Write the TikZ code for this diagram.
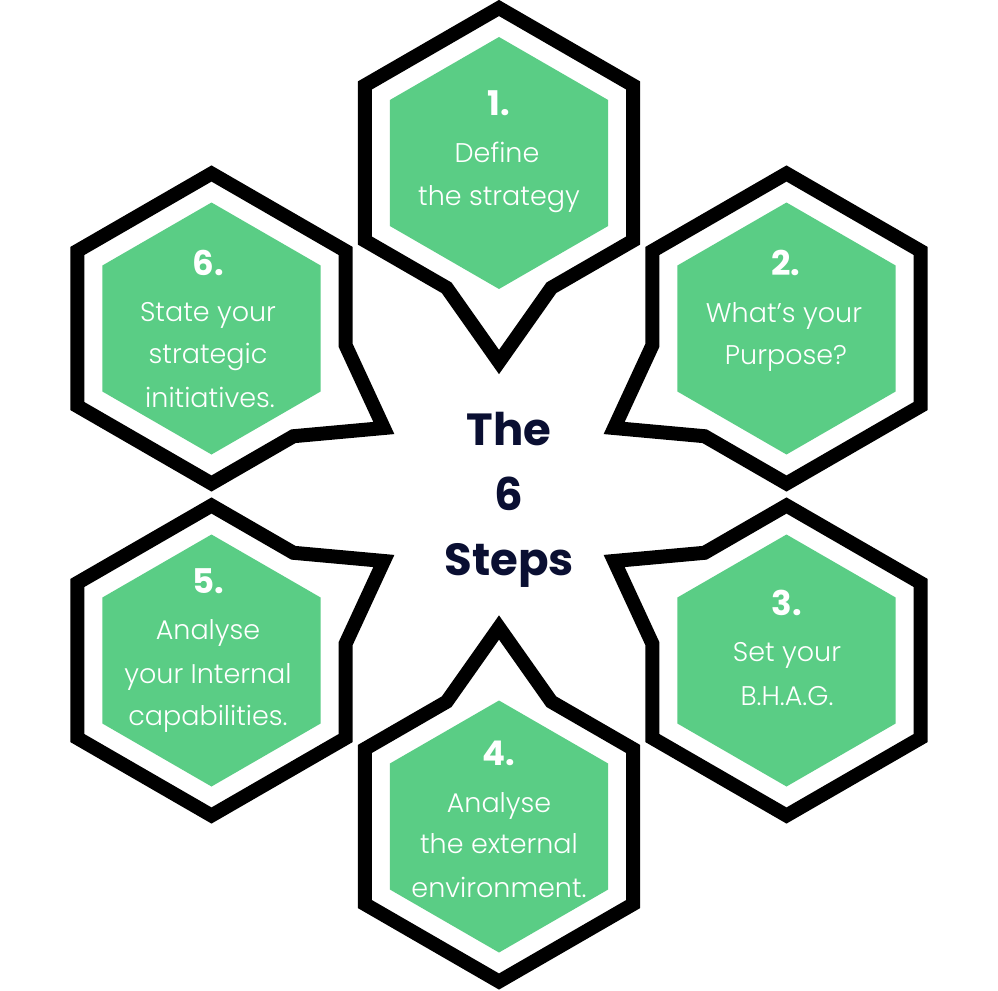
\documentclass[tikz,border=0pt]{standalone}
\usepackage{fontspec}
\setmainfont{Poppins}[UprightFont=* Light, BoldFont=* Bold]
\usetikzlibrary{calc}
\definecolor{hexgreen}{RGB}{90,205,133}
\definecolor{navyink}{RGB}{10,15,50}
\newcommand\hexcell[4]{%
  \coordinate (#1) at (#2,#3);
  \coordinate (#1V) at ($(#1)+(#4:155)$);
  \coordinate (#1P) at ($(#1)+(#4-60:155)$);
  \coordinate (#1N) at ($(#1)+(#4+60:155)$);
  \coordinate (#1A) at ($(#1V)!0.39!(#1P)$);
  \coordinate (#1B) at ($(#1V)!0.39!(#1N)$);
  \coordinate (#1T) at ($(#1)+(#4:199)$);
  \fill[greenhex] ($(#1)+(30:126)$) -- ($(#1)+(90:126)$) -- ($(#1)+(150:126)$) -- ($(#1)+(210:126)$) -- ($(#1)+(270:126)$) -- ($(#1)+(330:126)$) -- cycle;
  \draw[outline] (#1N) -- ($(#1)+(#4+120:155)$) -- ($(#1)+(#4+180:155)$) -- ($(#1)+(#4+240:155)$) -- (#1P) -- (#1A) -- (#1T) -- (#1B) -- cycle;
}
\begin{document}
\begin{tikzpicture}[x=1pt,y=-1pt,
  outline/.style={draw=black,line width=14pt,line join=miter},
  greenhex/.style={fill=hexgreen},
  numtxt/.style={font=\bfseries\fontsize{34}{34}\selectfont,text=white,anchor=base,inner sep=0pt},
  bodytxt/.style={font=\fontsize{27}{27}\selectfont,text=white,anchor=base,inner sep=0pt},
  centertxt/.style={font=\bfseries\fontsize{45}{45}\selectfont,text=navyink,anchor=base,inner sep=0pt}]
\useasboundingbox[fill=white] (0,0) rectangle (998,990);
\hexcell{h1}{499}{163}{90}
\hexcell{h2}{786.5}{328.5}{150}
\hexcell{h3}{786.5}{660.5}{210}
\hexcell{h4}{499}{826.5}{270}
\hexcell{h5}{211.5}{660.5}{330}
\hexcell{h6}{211.5}{328.5}{30}
% step 1
\node[numtxt] (n1) at (499,115) {1.};
\node[bodytxt] (t1a) at (497,162) {Define};
\node[bodytxt] (t1b) at (499,205) {the strategy};
% step 2
\node[numtxt] (n2) at (786,275) {2.};
\node[bodytxt] (t2a) at (784,322) {What’s your};
\node[bodytxt] (t2b) at (786,364) {Purpose?};
% step 3
\node[numtxt] (n3) at (787,615) {3.};
\node[bodytxt] (t3a) at (787,661) {Set your};
\node[bodytxt] (t3b) at (787,705) {B.H.A.G.};
% step 4
\node[numtxt] (n4) at (499,765) {4.};
\node[bodytxt] (t4a) at (499,812) {Analyse};
\node[bodytxt] (t4b) at (499,853) {the external};
\node[bodytxt] (t4c) at (499,897) {environment.};
% step 5
\node[numtxt] (n5) at (208,593) {5.};
\node[bodytxt] (t5a) at (208,639) {Analyse};
\node[bodytxt] (t5b) at (208,683) {your Internal};
\node[bodytxt] (t5c) at (208,725) {capabilities.};
% step 6
\node[numtxt] (n6) at (208,275) {6.};
\node[bodytxt] (t6a) at (208,321) {State your};
\node[bodytxt] (t6b) at (208,363) {strategic};
\node[bodytxt] (t6c) at (210,407) {initiatives.};
% centre
\node[centertxt] (c1) at (509,445) {The};
\node[centertxt] (c2) at (509,510) {6};
\node[centertxt] (c3) at (509,575) {Steps};
\end{tikzpicture}
\end{document}
